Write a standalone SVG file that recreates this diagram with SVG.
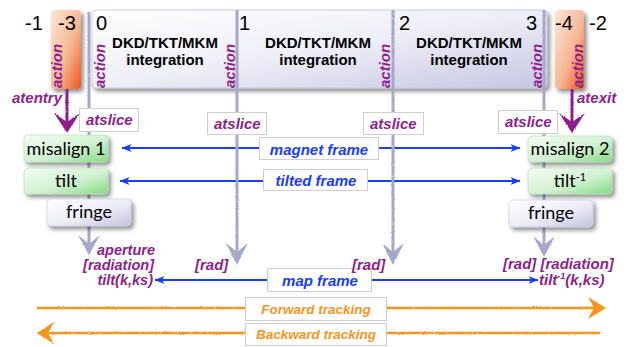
<svg xmlns="http://www.w3.org/2000/svg" width="627" height="347" viewBox="0 0 627 347">
<defs>
  <linearGradient id="gBar" x1="0" y1="0" x2="1" y2="1">
    <stop offset="0" stop-color="#ffffff"/>
    <stop offset="0.5" stop-color="#eeeef7"/>
    <stop offset="1" stop-color="#c6c6e4"/>
  </linearGradient>
  <linearGradient id="gOrange" x1="0" y1="0" x2="1" y2="1">
    <stop offset="0" stop-color="#fce6d8"/>
    <stop offset="0.55" stop-color="#f7b894"/>
    <stop offset="1" stop-color="#ef5318"/>
  </linearGradient>
  <linearGradient id="gGreen" x1="0" y1="0" x2="1" y2="1">
    <stop offset="0" stop-color="#f4fcf4"/>
    <stop offset="0.55" stop-color="#d2f1d2"/>
    <stop offset="1" stop-color="#86dc86"/>
  </linearGradient>
  <linearGradient id="gLav" x1="0" y1="0" x2="1" y2="1">
    <stop offset="0" stop-color="#ffffff"/>
    <stop offset="0.55" stop-color="#ececf6"/>
    <stop offset="1" stop-color="#c2c2e2"/>
  </linearGradient>
  <filter id="shadow" x="-20%" y="-20%" width="150%" height="160%">
    <feDropShadow dx="2.5" dy="3" stdDeviation="2" flood-color="#000" flood-opacity="0.45"/>
  </filter>
  <filter id="rough" filterUnits="userSpaceOnUse" x="0" y="0" width="627" height="347">
    <feTurbulence type="fractalNoise" baseFrequency="0.9" numOctaves="2" seed="3" result="n"/>
    <feDisplacementMap in="SourceGraphic" in2="n" scale="2.2" xChannelSelector="R" yChannelSelector="G"/>
  </filter>
  <marker id="blueHead" viewBox="0 0 10 8" refX="9.5" refY="4" markerWidth="10" markerHeight="8" markerUnits="userSpaceOnUse" orient="auto">
    <path d="M0,0 L10,4 L0,8 L2.5,4 z" fill="#1a3cff"/>
  </marker>
</defs>
<style>
  .num{font-family:"Liberation Sans",Arial,sans-serif;font-size:20px;fill:#000}
  .dkd{font-family:"Liberation Sans",Arial,sans-serif;font-weight:bold;font-size:15px;fill:#000;text-anchor:middle}
  .pur{font-family:"Liberation Sans",Arial,sans-serif;font-weight:bold;font-style:italic;font-size:15px;fill:#8e1f8c}
  .pur2{font-family:"Liberation Sans",Arial,sans-serif;font-weight:bold;font-style:italic;font-size:14.5px;fill:#8e1f8c}
  .blu{font-family:"Liberation Sans",Arial,sans-serif;font-weight:bold;font-style:italic;font-size:15px;fill:#1a3cff;text-anchor:middle}
  .org{font-family:"Liberation Sans",Arial,sans-serif;font-weight:bold;font-style:italic;font-size:13.5px;fill:#f7941d;text-anchor:middle}
  .box{font-family:Lato,"Open Sans",sans-serif;font-size:18px;fill:#000;text-anchor:middle}
  .lbl{fill:#ffffff;stroke:#cfcfcf;stroke-width:1}
  .slice{stroke:#a5a8c7;stroke-width:3;fill:none}
  .shead{fill:#a5a8c7}
  .blue{stroke:#1a3cff;stroke-width:2;fill:none;marker-end:url(#blueHead)}
  .oline{stroke:#f7941d;stroke-width:2.5;fill:none}
  .ohead{fill:#f7941d}
  .pline{stroke:#8e1f8c;stroke-width:3;fill:none}
  .phead{fill:#8e1f8c}
</style>

<!-- main integration bar -->
<g id="bar">
  <rect x="92" y="10" width="455" height="78" rx="4" fill="url(#gBar)" stroke="#c4c4d8" stroke-width="0.8" filter="url(#shadow)"/>
  <text class="dkd" x="165" y="48">DKD/TKT/MKM</text>
  <text class="dkd" x="165" y="65">integration</text>
  <text class="dkd" x="318" y="48">DKD/TKT/MKM</text>
  <text class="dkd" x="318" y="65">integration</text>
  <text class="dkd" x="469" y="48">DKD/TKT/MKM</text>
  <text class="dkd" x="469" y="65">integration</text>
  <text class="num" x="96" y="30">0</text>
  <text class="num" x="239" y="30">1</text>
  <text class="num" x="399" y="30">2</text>
  <text class="num" x="526" y="30">3</text>
  <text class="pur" transform="translate(105,88) rotate(-90)">action</text>
  <text class="pur" transform="translate(235,88) rotate(-90)">action</text>
  <text class="pur" transform="translate(390,88) rotate(-90)">action</text>
  <text class="pur" transform="translate(542,88) rotate(-90)">action</text>
</g>

<g id="entry-box">
  <rect x="51" y="10" width="30" height="79" rx="4" fill="url(#gOrange)" filter="url(#shadow)"/>
  <text class="num" x="58" y="30">-3</text>
  <text class="pur" transform="translate(62,88) rotate(-90)">action</text>
  <text class="num" x="25" y="30">-1</text>
</g>

<g id="exit-box">
  <rect x="555" y="10" width="29" height="79" rx="4" fill="url(#gOrange)" filter="url(#shadow)"/>
  <text class="num" x="555" y="30">-4</text>
  <text class="pur" transform="translate(583,88) rotate(-90)">action</text>
  <text class="num" x="589" y="30">-2</text>
</g>

<!-- connectors -->
<g id="connectors">
  <!-- frame arrows -->
  <line class="blue" x1="259" y1="148" x2="122" y2="148"/>
  <line class="blue" x1="379" y1="148" x2="520" y2="148"/>
  <line class="blue" x1="263" y1="181" x2="120" y2="181"/>
  <line class="blue" x1="368" y1="181" x2="520" y2="181"/>
  <line class="blue" x1="267" y1="280" x2="155" y2="280"/>
  <line class="blue" x1="372" y1="280" x2="538" y2="280"/>
  <!-- tracking -->
  <g filter="url(#rough)">
    <line class="oline" x1="37" y1="308" x2="245" y2="308"/>
    <line class="oline" x1="387" y1="308" x2="598" y2="308"/>
    <path class="ohead" d="M588,297 L606,308 L588,319 L594,308 z"/>
    <line class="oline" x1="44" y1="333" x2="245" y2="333"/>
    <line class="oline" x1="387" y1="333" x2="600" y2="333"/>
    <path class="ohead" d="M54,322 L37,333 L54,344 L48,333 z"/>
  </g>
  <!-- slice lines -->
  <g filter="url(#rough)">
    <line class="slice" x1="89" y1="12" x2="89" y2="248"/>
    <path class="shead" d="M78,235 L89,244 L100,235 L89,255 z"/>
    <line class="slice" x1="237" y1="10" x2="237" y2="256"/>
    <path class="shead" d="M226,243 L237,252 L248,243 L237,265 z"/>
    <line class="slice" x1="393" y1="10" x2="393" y2="256"/>
    <path class="shead" d="M382,243 L393,252 L404,243 L393,265 z"/>
    <line class="slice" x1="544" y1="10" x2="544" y2="248"/>
    <path class="shead" d="M533,236 L544,245 L555,236 L544,257 z"/>
  </g>
  <!-- entry / exit -->
  <g filter="url(#rough)">
    <line class="pline" x1="67" y1="89" x2="67" y2="124"/>
    <path class="phead" d="M54,113 L67,122 L80,113 L67,133 z"/>
    <line class="pline" x1="572" y1="89" x2="572" y2="124"/>
    <path class="phead" d="M559,113 L572,122 L585,113 L572,133 z"/>
  </g>
</g>

<g id="atentry"><text class="pur" x="12" y="103">atentry</text></g>
<g id="atexit"><text class="pur" x="577" y="103">atexit</text></g>

<g id="atslice-0"><rect class="lbl" x="79.5" y="108.5" width="59" height="23"/><text class="pur" x="86" y="125">atslice</text></g>
<g id="atslice-1"><rect class="lbl" x="207.5" y="112.5" width="59" height="22"/><text class="pur" x="214" y="129">atslice</text></g>
<g id="atslice-2"><rect class="lbl" x="363.5" y="112.5" width="60" height="22"/><text class="pur" x="370" y="129">atslice</text></g>
<g id="atslice-3"><rect class="lbl" x="498.5" y="110.5" width="59" height="23"/><text class="pur" x="505" y="127">atslice</text></g>

<g id="misalign1"><rect x="24" y="135" width="84" height="27" rx="4" fill="url(#gGreen)" stroke="#b8dcb8" stroke-width="0.6" filter="url(#shadow)"/><text class="box" x="66" y="155">misalign 1</text></g>
<g id="tilt"><rect x="24" y="168" width="84" height="26" rx="4" fill="url(#gGreen)" stroke="#b8dcb8" stroke-width="0.6" filter="url(#shadow)"/><text class="box" x="66" y="187">tilt</text></g>
<g id="fringe-in"><rect x="47" y="199" width="84" height="27" rx="4" fill="url(#gLav)" stroke="#c8c8dc" stroke-width="0.6" filter="url(#shadow)"/><text class="box" x="89" y="218">fringe</text></g>

<g id="misalign2"><rect x="528" y="136" width="84" height="26" rx="4" fill="url(#gGreen)" stroke="#b8dcb8" stroke-width="0.6" filter="url(#shadow)"/><text class="box" x="570" y="155">misalign 2</text></g>
<g id="tilt-inv"><rect x="528" y="168" width="84" height="26" rx="4" fill="url(#gGreen)" stroke="#b8dcb8" stroke-width="0.6" filter="url(#shadow)"/><text class="box" x="570" y="187">tilt<tspan font-size="11" dy="-6">-1</tspan></text></g>
<g id="fringe-out"><rect x="509" y="200" width="84" height="27" rx="4" fill="url(#gLav)" stroke="#c8c8dc" stroke-width="0.6" filter="url(#shadow)"/><text class="box" x="551" y="219">fringe</text></g>

<g id="magnet-frame"><rect class="lbl" x="259.5" y="137.5" width="119" height="22"/><text class="blu" x="319" y="155">magnet frame</text></g>
<g id="tilted-frame"><rect class="lbl" x="263.5" y="169.5" width="104" height="21"/><text class="blu" x="316" y="186">tilted frame</text></g>
<g id="map-frame"><rect class="lbl" x="267.5" y="268.5" width="104" height="23"/><text class="blu" x="320" y="286">map frame</text></g>

<g id="entry-ops">
  <text class="pur2" text-anchor="end" x="155" y="255">aperture</text>
  <text class="pur2" text-anchor="end" x="154" y="270">[radiation]</text>
  <text class="pur2" text-anchor="end" x="153" y="285">tilt(k,ks)</text>
</g>
<g id="rad-1"><text class="pur" x="195" y="270">[rad]</text></g>
<g id="rad-2"><text class="pur" x="352" y="270">[rad]</text></g>
<g id="exit-ops">
  <text class="pur" x="503" y="269">[rad] [radiation]</text>
  <text class="pur" x="539" y="285">tilt<tspan font-size="9" dy="-6">-1</tspan><tspan dy="6">(k,ks)</tspan></text>
</g>

<g id="forward"><rect class="lbl" x="245.5" y="297.5" width="141" height="23"/><text class="org" x="316" y="314">Forward tracking</text></g>
<g id="backward"><rect class="lbl" x="245.5" y="323.5" width="141" height="22"/><text class="org" x="316" y="339">Backward tracking</text></g>
</svg>
